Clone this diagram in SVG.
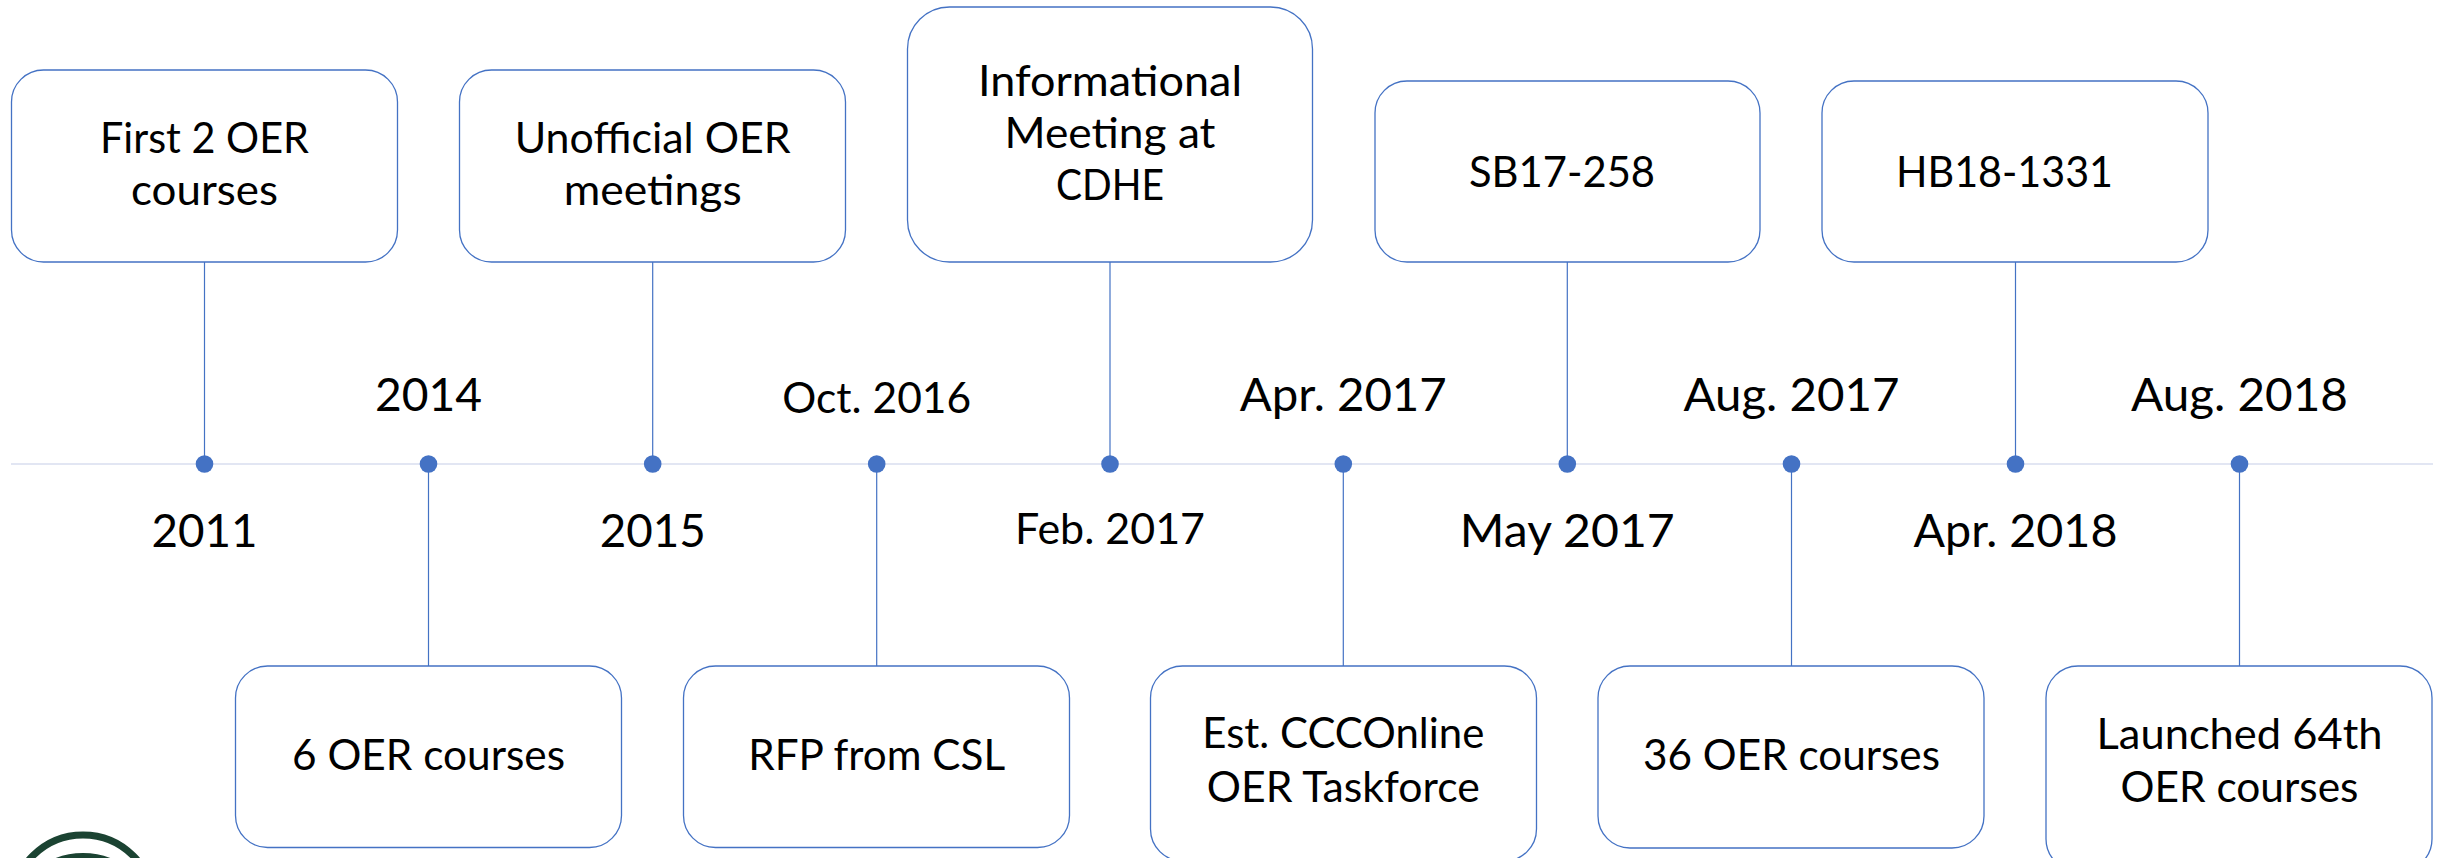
<svg xmlns="http://www.w3.org/2000/svg" width="2440" height="858" viewBox="0 0 2440 858">
<style>
.box{fill:#fff;stroke:#4472C4;stroke-width:1.3}
.con{stroke:#4472C4;stroke-width:1.2;fill:none}
.axis{stroke:#D9DEEF;stroke-width:1.6;fill:none}
.dot{fill:#4472C4}
text{font-family:Lato,"Liberation Sans",sans-serif;fill:#000;text-anchor:middle}
.l{font-size:42px}
.d{font-size:46.5px}
.s{font-size:42px}
.logo{fill:none;stroke:#1B4332;stroke-width:7}
</style>
<rect width="2440" height="858" fill="#fff"/>
<g id="connectors">
<line class="axis" x1="11" y1="464" x2="2433" y2="464"/>
<line class="con" x1="204.5" y1="262" x2="204.5" y2="464"/>
<line class="con" x1="428.5" y1="464" x2="428.5" y2="666"/>
<line class="con" x1="652.7" y1="262" x2="652.7" y2="464"/>
<line class="con" x1="876.7" y1="464" x2="876.7" y2="666"/>
<line class="con" x1="1110" y1="262" x2="1110" y2="464"/>
<line class="con" x1="1343.3" y1="464" x2="1343.3" y2="666"/>
<line class="con" x1="1567.3" y1="262" x2="1567.3" y2="464"/>
<line class="con" x1="1791.5" y1="464" x2="1791.5" y2="666"/>
<line class="con" x1="2015.5" y1="262" x2="2015.5" y2="464"/>
<line class="con" x1="2239.5" y1="464" x2="2239.5" y2="666"/>
</g>
<g id="n2011">
<rect class="box" x="11.5" y="70" width="386" height="192" rx="32"/>
<text class="l" x="204.5" y="153" textLength="209" lengthAdjust="spacingAndGlyphs">First 2 OER</text><text class="l" x="204.5" y="205" textLength="147" lengthAdjust="spacingAndGlyphs">courses</text>
<circle class="dot" cx="204.5" cy="464" r="8.8"/><text class="d" x="204.5" y="547" textLength="106" lengthAdjust="spacingAndGlyphs">2011</text>
</g>
<g id="n2014">
<rect class="box" x="235.5" y="666" width="386" height="181.5" rx="32"/>
<text class="l" x="428.5" y="770" textLength="273" lengthAdjust="spacingAndGlyphs">6 OER courses</text>
<circle class="dot" cx="428.5" cy="464" r="8.8"/><text class="d" x="428.5" y="411" textLength="107" lengthAdjust="spacingAndGlyphs">2014</text>
</g>
<g id="n2015">
<rect class="box" x="459.5" y="70" width="386" height="192" rx="32"/>
<text class="l" x="652.7" y="153" textLength="276" lengthAdjust="spacingAndGlyphs">Unofficial OER</text><text class="l" x="652.7" y="205" textLength="178" lengthAdjust="spacingAndGlyphs">meetings</text>
<circle class="dot" cx="652.7" cy="464" r="8.8"/><text class="d" x="652.7" y="547" textLength="106" lengthAdjust="spacingAndGlyphs">2015</text>
</g>
<g id="nOct2016">
<rect class="box" x="683.5" y="666" width="386" height="181.5" rx="32"/>
<text class="l" x="876.7" y="770" textLength="257" lengthAdjust="spacingAndGlyphs">RFP from CSL</text>
<circle class="dot" cx="876.7" cy="464" r="8.8"/><text class="s" x="876.7" y="413" textLength="189" lengthAdjust="spacingAndGlyphs">Oct. 2016</text>
</g>
<g id="nFeb2017">
<rect class="box" x="907.5" y="7" width="405" height="255" rx="42"/>
<text class="l" x="1110" y="96" textLength="264" lengthAdjust="spacingAndGlyphs">Informational</text><text class="l" x="1110" y="148" textLength="211" lengthAdjust="spacingAndGlyphs">Meeting at</text><text class="l" x="1110" y="200" textLength="108" lengthAdjust="spacingAndGlyphs">CDHE</text>
<circle class="dot" cx="1110" cy="464" r="8.8"/><text class="s" x="1110" y="544" textLength="190" lengthAdjust="spacingAndGlyphs">Feb. 2017</text>
</g>
<g id="nApr2017">
<rect class="box" x="1150.5" y="666" width="386" height="195" rx="32"/>
<text class="l" x="1343.3" y="748" textLength="282" lengthAdjust="spacingAndGlyphs">Est. CCCOnline</text><text class="l" x="1343.3" y="802" textLength="273" lengthAdjust="spacingAndGlyphs">OER Taskforce</text>
<circle class="dot" cx="1343.3" cy="464" r="8.8"/><text class="d" x="1343.3" y="411" textLength="207" lengthAdjust="spacingAndGlyphs">Apr. 2017</text>
</g>
<g id="nMay2017">
<rect class="box" x="1375" y="81" width="385" height="181" rx="32"/>
<text class="l" x="1562" y="187" textLength="186" lengthAdjust="spacingAndGlyphs">SB17-258</text>
<circle class="dot" cx="1567.3" cy="464" r="8.8"/><text class="d" x="1567.3" y="547" textLength="215" lengthAdjust="spacingAndGlyphs">May 2017</text>
</g>
<g id="nAug2017">
<rect class="box" x="1598" y="666" width="386" height="182" rx="32"/>
<text class="l" x="1791.5" y="770" textLength="297" lengthAdjust="spacingAndGlyphs">36 OER courses</text>
<circle class="dot" cx="1791.5" cy="464" r="8.8"/><text class="d" x="1791.5" y="411" textLength="216" lengthAdjust="spacingAndGlyphs">Aug. 2017</text>
</g>
<g id="nApr2018">
<rect class="box" x="1822" y="81" width="386" height="181" rx="32"/>
<text class="l" x="2004.5" y="187" textLength="217" lengthAdjust="spacingAndGlyphs">HB18-1331</text>
<circle class="dot" cx="2015.5" cy="464" r="8.8"/><text class="d" x="2015.5" y="547" textLength="204" lengthAdjust="spacingAndGlyphs">Apr. 2018</text>
</g>
<g id="nAug2018">
<rect class="box" x="2046" y="666" width="386" height="205" rx="32"/>
<text class="l" x="2239.5" y="749" textLength="286" lengthAdjust="spacingAndGlyphs">Launched 64th</text><text class="l" x="2239.5" y="802" textLength="238" lengthAdjust="spacingAndGlyphs">OER courses</text>
<circle class="dot" cx="2239.5" cy="464" r="8.8"/><text class="d" x="2239.5" y="411" textLength="217" lengthAdjust="spacingAndGlyphs">Aug. 2018</text>
</g>
<g id="logo">
<circle class="logo" cx="83" cy="906" r="71"/>
<circle class="logo" cx="83" cy="926.5" r="70"/>
</g>
</svg>
